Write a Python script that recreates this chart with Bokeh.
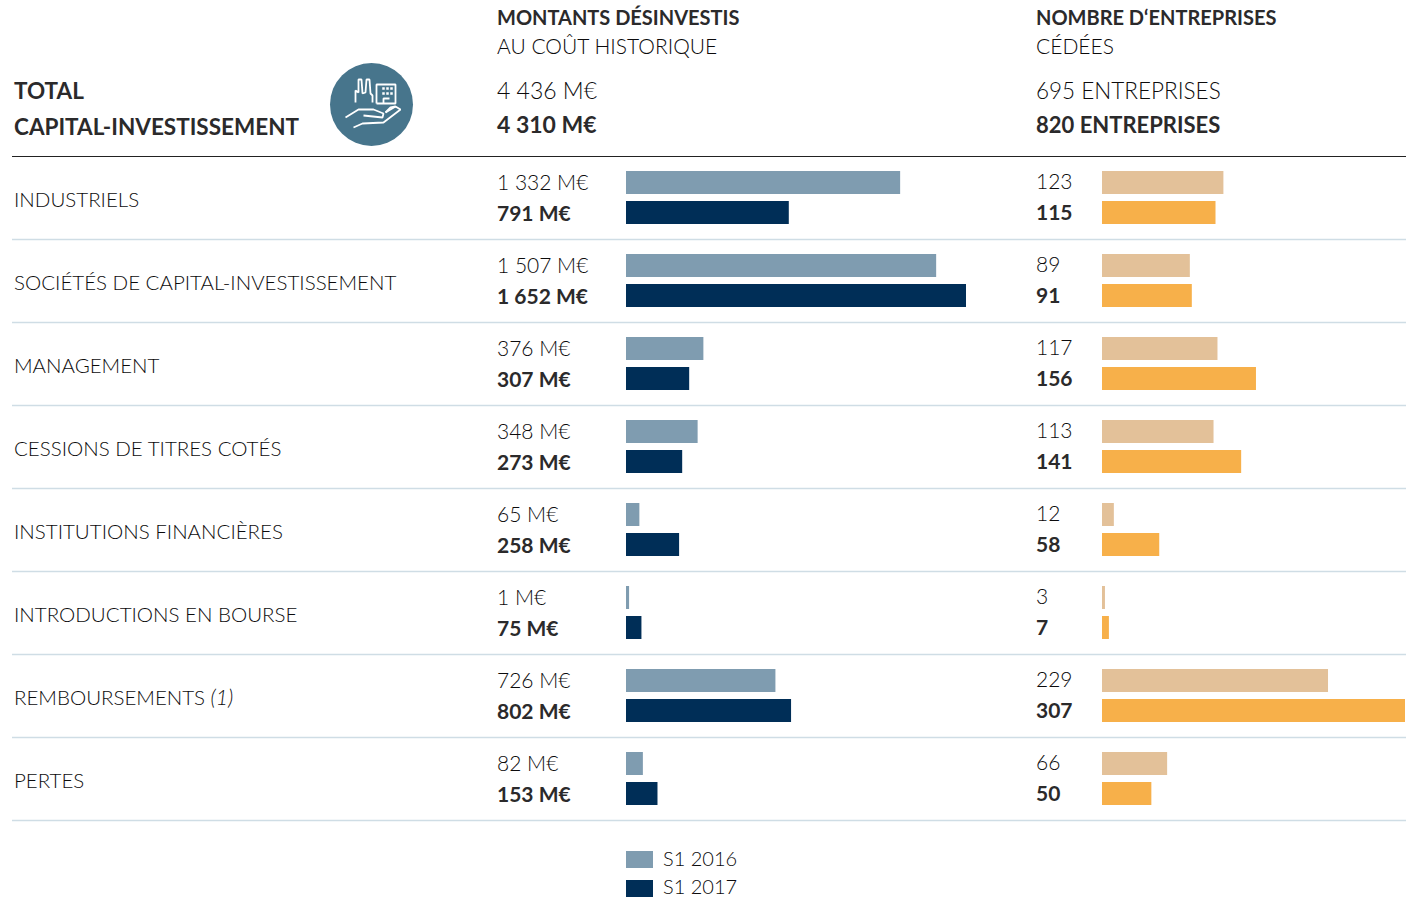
from bokeh.plotting import figure
from bokeh.models import Range1d
from bokeh.embed import file_html
from bokeh.resources import INLINE
from bokeh.core.properties import value

categories = ["INDUSTRIELS", "SOCIÉTÉS DE CAPITAL-INVESTISSEMENT", "MANAGEMENT",
              "CESSIONS DE TITRES COTÉS", "INSTITUTIONS FINANCIÈRES",
              "INTRODUCTIONS EN BOURSE", "REMBOURSEMENTS", "PERTES"]
amount_2016 = [1332, 1507, 376, 348, 65, 1, 726, 82]
amount_2017 = [791, 1652, 307, 273, 258, 75, 802, 153]
count_2016 = [123, 89, 117, 113, 12, 3, 229, 66]
count_2017 = [115, 91, 156, 141, 58, 7, 307, 50]
series = ["S1 2016", "S1 2017"]
total_amount = ["4 436 M€", "4 310 M€"]
total_count = ["695 ENTREPRISES", "820 ENTREPRISES"]

W, H = 1406, 897
FONT = "Lato"
LIGHT = "Lato Light"
INK = "#2b2a2b"
INK_LIGHT = "#0c0b0c"
C_A16, C_A17, C_N16, C_N17 = "#7f9cb0", "#002e57", "#e3c199", "#f7b04a"
RULE = "#cfdde5"
ROW0, PITCH = 197.0, 83.0


def fmt(v):
    return f"{v:,}".replace(",", " ")


p = figure(width=W, height=H, x_range=Range1d(0, W), y_range=Range1d(H, 0),
           x_axis_location=None, y_axis_location=None, toolbar_location=None,
           output_backend="svg", min_border=0, outline_line_color=None,
           background_fill_color="white", border_fill_color="white")
p.grid.visible = False

# data scales: zero of amounts at x=625.5, zero of counts at x=1101.5
k_a, k_n = 340 / 1652, 303 / 307
z_a, z_n = 625.5, 1101.5
p.extra_x_ranges = {
    "amount": Range1d(-z_a / k_a, (W - z_a) / k_a),
    "count": Range1d(-z_n / k_n, (W - z_n) / k_n),
}
p.extra_y_ranges = {"rows": Range1d((H - ROW0) / PITCH, -ROW0 / PITCH)}


def txt(x, y, s, size=21, bold=False, italic=False, align="left"):
    style = "bold" if bold else ("italic" if italic else "normal")
    font = FONT if bold else LIGHT
    p.text([x - 2], [y - 1.2], text=[s], text_font=value(font), text_font_size=f"{size}px",
           text_font_style=style, text_color=INK if bold else INK_LIGHT,
           text_baseline="middle", text_align=align)


# separators
p.segment(x0=[11.5], x1=[1406], y0=[156], y1=[156], line_color="#222222", line_width=1.2)
for i in range(len(categories)):
    yy = ROW0 + PITCH * i + 42
    p.segment(x0=[11.5], x1=[1406], y0=[yy], y1=[yy], line_color=RULE, line_width=1.6)

# bars
rows = list(range(len(categories)))
H_BAR = 23 / PITCH
D = 15 / PITCH
amount_2016_drawn = [max(v, 15) for v in amount_2016]  # hairline values keep a visible width
p.hbar(y=[r - D for r in rows], left=0, right=amount_2016_drawn, height=H_BAR, color=C_A16, line_color=None,
       x_range_name="amount", y_range_name="rows")
p.hbar(y=[r + D for r in rows], left=0, right=amount_2017, height=H_BAR, color=C_A17, line_color=None,
       x_range_name="amount", y_range_name="rows")
p.hbar(y=[r - D for r in rows], left=0, right=count_2016, height=H_BAR, color=C_N16, line_color=None,
       x_range_name="count", y_range_name="rows")
p.hbar(y=[r + D for r in rows], left=0, right=count_2017, height=H_BAR, color=C_N17, line_color=None,
       x_range_name="count", y_range_name="rows")

# row texts
for i, c in enumerate(categories):
    cy = ROW0 + PITCH * i
    txt(15.5, cy + 2.5, c, 20.5)
    if c == "REMBOURSEMENTS":
        txt(212, cy + 2.5, "(1)", 21, italic=True)
    txt(498.5, cy - 15, fmt(amount_2016[i]) + " M€", 21)
    txt(498.5, cy + 16, fmt(amount_2017[i]) + " M€", 21, bold=True)
    txt(1037.5, cy - 15, fmt(count_2016[i]), 21)
    txt(1037.5, cy + 16.5, fmt(count_2017[i]), 21, bold=True)

# header
txt(15.5, 91, "TOTAL", 22.5, bold=True)
txt(15.5, 127, "CAPITAL-INVESTISSEMENT", 22.5, bold=True)
txt(498.5, 18, "MONTANTS DÉSINVESTIS", 20, bold=True)
txt(498.5, 46, "AU COÛT HISTORIQUE", 21)
txt(498.5, 91, total_amount[0], 23)
txt(498.5, 125, total_amount[1], 23, bold=True)
txt(1037.5, 18, "NOMBRE D‘ENTREPRISES", 20, bold=True)
txt(1037.5, 46, "CÉDÉES", 21)
txt(1037.5, 91, total_count[0], 22.5)
txt(1037.5, 125, total_count[1], 22, bold=True)

# icon
cx, cy = 371, 104
p.circle([cx], [cy], radius=41.5, color="#47758c", line_color=None)
ICON = [
    # factory
    [(-16, -2), (-16, -14), (-13, -12), (-13, -25), (-10, -25), (-9, -11), (-6, -12), (-5, -25),
     (-2, -25), (-1, -11), (1, -9), (1, -2)],
    # building
    [(5, -1), (5, -20), (24, -20), (24, -1), (5, -1)],
    [(12, -1), (12, -6), (18, -6)],
    # hand
    [(-26, 13), (-13, 5), (2, 5), (12, 9), (11, 13), (-8, 11)],
    [(-18, 23), (-9, 19), (12, 18), (29, 5), (24, 2), (14, 8)],
    [(14, 8), (19, 3), (24, 2)],
]
for seg in ICON:
    p.line([cx + a for a, _ in seg], [cy + b for _, b in seg], line_color="white", line_width=1.8)
for a in (12, 16, 20):
    for b in (-16, -11):
        p.rect([cx + a], [cy + b], width=2.5, height=2.5, color="white", line_color=None)

# legend
for j, (s, c) in enumerate(zip(series, (C_A16, C_A17))):
    p.rect([639], [859 + 29 * j], width=27, height=17, color=c, line_color=None)
    txt(664.5, 859 + 28 * j, s, 20)

open("out.html", "w").write(file_html(p, INLINE))
